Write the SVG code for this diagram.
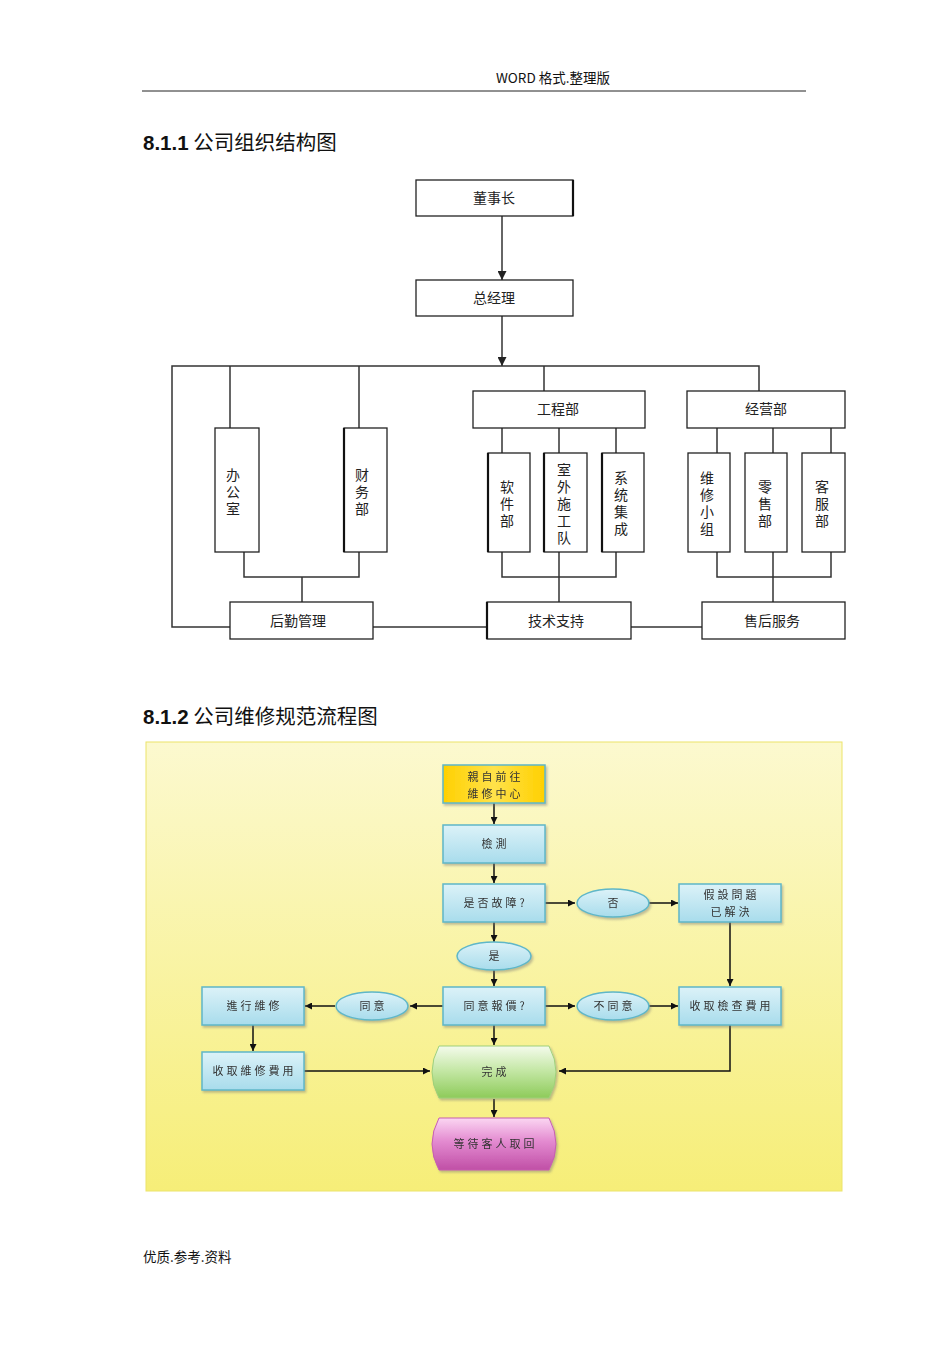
<svg xmlns="http://www.w3.org/2000/svg" width="950" height="1345" viewBox="0 0 950 1345">
<defs>
<style>
.t{font-family:"Noto Sans CJK SC","Liberation Sans",sans-serif;fill:#111;}
.ob{fill:#fff;stroke:#222;stroke-width:1.3;}
.ol{fill:none;stroke:#333;stroke-width:1.5;}
.ot{font-family:"Noto Sans CJK SC",sans-serif;font-size:14px;fill:#222;text-anchor:middle;}
.vt{font-family:"Noto Sans CJK SC",sans-serif;font-size:14px;fill:#222;text-anchor:middle;writing-mode:vertical-rl;letter-spacing:3px;}
.fb{fill:url(#gBlue);stroke:#5fb7c8;stroke-width:1.5;}
.fe{fill:url(#gBlue);stroke:#5fb7c8;stroke-width:1.5;}
.ft{font-family:"Noto Sans CJK TC","Noto Sans CJK SC",sans-serif;font-size:11px;letter-spacing:3px;fill:#333;text-anchor:middle;}
.fl{fill:none;stroke:#111;stroke-width:1.5;}
</style>
<marker id="ah" viewBox="0 0 10 10" refX="10" refY="5" markerWidth="7" markerHeight="7" orient="auto" markerUnits="userSpaceOnUse">
<path d="M0,0 L10,5 L0,10 Z" fill="#111"/>
</marker>
<marker id="ah2" viewBox="0 0 10 10" refX="10" refY="5" markerWidth="9" markerHeight="9" orient="auto" markerUnits="userSpaceOnUse">
<path d="M0,0 L10,5 L0,10 Z" fill="#222"/>
</marker>
<linearGradient id="gBg" x1="0" y1="0" x2="0" y2="1">
<stop offset="0" stop-color="#fcf9cf"/>
<stop offset="1" stop-color="#f6ee78"/>
</linearGradient>
<linearGradient id="gBlue" x1="0" y1="0" x2="0" y2="1">
<stop offset="0" stop-color="#dcf2f8"/>
<stop offset="1" stop-color="#a8dcec"/>
</linearGradient>
<linearGradient id="gGold" x1="0" y1="0" x2="1" y2="0">
<stop offset="0" stop-color="#ffd000"/>
<stop offset="0.5" stop-color="#ffe24a"/>
<stop offset="1" stop-color="#ffd000"/>
</linearGradient>
<linearGradient id="gGreen" x1="0" y1="0" x2="0" y2="1">
<stop offset="0" stop-color="#f4fbec"/>
<stop offset="0.45" stop-color="#c6e8a8"/>
<stop offset="1" stop-color="#8ecb5a"/>
</linearGradient>
<linearGradient id="gPink" x1="0" y1="0" x2="0" y2="1">
<stop offset="0" stop-color="#fbd6f2"/>
<stop offset="0.45" stop-color="#e38ad0"/>
<stop offset="1" stop-color="#c04fa6"/>
</linearGradient>
<filter id="sh" x="-10%" y="-10%" width="130%" height="140%">
<feDropShadow dx="1.5" dy="2" stdDeviation="1.2" flood-color="#777" flood-opacity="0.45"/>
</filter>
</defs>

<g id="header">
<text class="t" x="553" y="83" font-size="13.5" text-anchor="middle">WORD 格式.整理版</text>
<line x1="142" y1="91" x2="806" y2="91" stroke="#222" stroke-width="1"/>
</g>
<g id="title1">
<text class="t" x="143" y="150" font-size="20.5"><tspan font-weight="bold" font-family="Liberation Sans,sans-serif">8.1.1</tspan> 公司组织结构图</text>
</g>

<g id="org-connectors">
<line class="ol" x1="502" y1="216" x2="502" y2="280" marker-end="url(#ah2)"/>
<line class="ol" x1="502" y1="316" x2="502" y2="366" marker-end="url(#ah2)"/>
<polyline class="ol" points="230,627 172,627 172,366 759,366 759,391"/>
<line class="ol" x1="230" y1="366" x2="230" y2="428"/>
<line class="ol" x1="359" y1="366" x2="359" y2="428"/>
<line class="ol" x1="544" y1="366" x2="544" y2="391"/>
<polyline class="ol" points="244,552 244,577 359,577 359,552"/>
<line class="ol" x1="302" y1="577" x2="302" y2="602"/>
<line class="ol" x1="502" y1="428" x2="502" y2="453"/>
<line class="ol" x1="559" y1="428" x2="559" y2="453"/>
<line class="ol" x1="616" y1="428" x2="616" y2="453"/>
<polyline class="ol" points="502,552 502,577 616,577 616,552"/>
<line class="ol" x1="559" y1="552" x2="559" y2="602"/>
<line class="ol" x1="717" y1="428" x2="717" y2="453"/>
<line class="ol" x1="773" y1="428" x2="773" y2="453"/>
<line class="ol" x1="831" y1="428" x2="831" y2="453"/>
<polyline class="ol" points="717,552 717,577 831,577 831,552"/>
<line class="ol" x1="773" y1="552" x2="773" y2="602"/>
<line class="ol" x1="373" y1="627" x2="487" y2="627"/>
<line class="ol" x1="631" y1="627" x2="702" y2="627"/>
</g>

<g id="n-dongshizhang"><rect class="ob" x="416" y="180" width="157" height="36"/><line x1="573" y1="180" x2="573" y2="216" stroke="#111" stroke-width="2.2"/><text class="ot" x="494" y="203">董事长</text></g>
<g id="n-zongjingli"><rect class="ob" x="416" y="280" width="157" height="36"/><text class="ot" x="494" y="303">总经理</text></g>
<g id="n-bangongshi"><rect class="ob" x="215" y="428" width="44" height="124"/><text class="vt" x="233" y="493">办公室</text></g>
<g id="n-caiwubu"><rect class="ob" x="344" y="428" width="43" height="124"/><line x1="344" y1="428" x2="344" y2="552" stroke="#111" stroke-width="2.2"/><text class="vt" x="362" y="493">财务部</text></g>
<g id="n-gongchengbu"><rect class="ob" x="473" y="391" width="172" height="37"/><text class="ot" x="558" y="414">工程部</text></g>
<g id="n-jingyingbu"><rect class="ob" x="687" y="391" width="158" height="37"/><text class="ot" x="766" y="414">经营部</text></g>
<g id="n-ruanjianbu"><rect class="ob" x="488" y="453" width="42" height="99"/><line x1="488" y1="453" x2="488" y2="552" stroke="#111" stroke-width="2.2"/><text class="vt" x="507" y="505">软件部</text></g>
<g id="n-shiwai"><rect class="ob" x="544" y="453" width="43" height="99"/><line x1="544" y1="453" x2="544" y2="552" stroke="#111" stroke-width="2.2"/><text class="vt" x="564" y="505">室外施工队</text></g>
<g id="n-xitong"><rect class="ob" x="602" y="453" width="42" height="99"/><line x1="602" y1="453" x2="602" y2="552" stroke="#111" stroke-width="2.2"/><text class="vt" x="621" y="505">系统集成</text></g>
<g id="n-weixiu"><rect class="ob" x="688" y="453" width="42" height="99"/><text class="vt" x="707" y="505">维修小组</text></g>
<g id="n-lingshou"><rect class="ob" x="745" y="453" width="42" height="99"/><text class="vt" x="765" y="505">零售部</text></g>
<g id="n-kefu"><rect class="ob" x="802" y="453" width="43" height="99"/><text class="vt" x="822" y="505">客服部</text></g>
<g id="n-houqin"><rect class="ob" x="230" y="602" width="143" height="37"/><text class="ot" x="298" y="626">后勤管理</text></g>
<g id="n-jishu"><rect class="ob" x="487" y="602" width="144" height="37"/><line x1="487" y1="602" x2="487" y2="639" stroke="#111" stroke-width="2.2"/><text class="ot" x="556" y="626">技术支持</text></g>
<g id="n-shouhou"><rect class="ob" x="702" y="602" width="143" height="37"/><text class="ot" x="772" y="626">售后服务</text></g>

<g id="title2">
<text class="t" x="143" y="724" font-size="20.5"><tspan font-weight="bold" font-family="Liberation Sans,sans-serif">8.1.2</tspan> 公司维修规范流程图</text>
</g>

<g id="flow-bg">
<rect x="146" y="742" width="696" height="449" fill="url(#gBg)" stroke="#ece46a" stroke-width="1"/>
</g>

<g id="flow-connectors">
<line class="fl" x1="494" y1="803" x2="494" y2="824" marker-end="url(#ah)"/>
<line class="fl" x1="494" y1="863" x2="494" y2="883" marker-end="url(#ah)"/>
<line class="fl" x1="545" y1="903" x2="575" y2="903" marker-end="url(#ah)"/>
<line class="fl" x1="649" y1="903" x2="678" y2="903" marker-end="url(#ah)"/>
<line class="fl" x1="494" y1="922" x2="494" y2="942" marker-end="url(#ah)"/>
<line class="fl" x1="494" y1="970" x2="494" y2="986" marker-end="url(#ah)"/>
<line class="fl" x1="730" y1="922" x2="730" y2="986" marker-end="url(#ah)"/>
<line class="fl" x1="443" y1="1006" x2="410" y2="1006" marker-end="url(#ah)"/>
<line class="fl" x1="335" y1="1006" x2="305" y2="1006" marker-end="url(#ah)"/>
<line class="fl" x1="545" y1="1006" x2="575" y2="1006" marker-end="url(#ah)"/>
<line class="fl" x1="649" y1="1006" x2="678" y2="1006" marker-end="url(#ah)"/>
<line class="fl" x1="253" y1="1025" x2="253" y2="1051" marker-end="url(#ah)"/>
<line class="fl" x1="494" y1="1025" x2="494" y2="1045" marker-end="url(#ah)"/>
<line class="fl" x1="304" y1="1071" x2="430" y2="1071" marker-end="url(#ah)"/>
<polyline class="fl" points="730,1025 730,1071 559,1071" marker-end="url(#ah)"/>
<line class="fl" x1="494" y1="1099" x2="494" y2="1117" marker-end="url(#ah)"/>
</g>

<g id="f-start" filter="url(#sh)"><rect x="443" y="765" width="102" height="38" fill="url(#gGold)" stroke="#5fb7c8" stroke-width="1.5"/><text class="ft" x="495.5" y="781">親自前往</text><text class="ft" x="495.5" y="798">維修中心</text></g>
<g id="f-jiance" filter="url(#sh)"><rect class="fb" x="443" y="825" width="102" height="38"/><text class="ft" x="495.5" y="848">檢測</text></g>
<g id="f-guzhang" filter="url(#sh)"><rect class="fb" x="443" y="884" width="102" height="38"/><text class="ft" x="495.5" y="907">是否故障?</text></g>
<g id="f-fou" filter="url(#sh)"><ellipse class="fe" cx="613" cy="903" rx="36" ry="14"/><text class="ft" x="614.5" y="907">否</text></g>
<g id="f-jiashe" filter="url(#sh)"><rect class="fb" x="679" y="884" width="102" height="38"/><text class="ft" x="731.5" y="899">假設問題</text><text class="ft" x="731.5" y="916">已解決</text></g>
<g id="f-shi" filter="url(#sh)"><ellipse class="fe" cx="494" cy="956" rx="37" ry="14"/><text class="ft" x="495.5" y="960">是</text></g>
<g id="f-baojia" filter="url(#sh)"><rect class="fb" x="443" y="987" width="102" height="38"/><text class="ft" x="495.5" y="1010">同意報價?</text></g>
<g id="f-tongyi" filter="url(#sh)"><ellipse class="fe" cx="372" cy="1006" rx="36" ry="14"/><text class="ft" x="373.5" y="1010">同意</text></g>
<g id="f-jinxing" filter="url(#sh)"><rect class="fb" x="202" y="987" width="102" height="38"/><text class="ft" x="254.5" y="1010">進行維修</text></g>
<g id="f-butongyi" filter="url(#sh)"><ellipse class="fe" cx="613" cy="1006" rx="36" ry="14"/><text class="ft" x="614.5" y="1010">不同意</text></g>
<g id="f-jiancha" filter="url(#sh)"><rect class="fb" x="679" y="987" width="102" height="38"/><text class="ft" x="731.5" y="1010">收取檢查費用</text></g>
<g id="f-weixiufei" filter="url(#sh)"><rect class="fb" x="202" y="1052" width="102" height="38"/><text class="ft" x="254.5" y="1075">收取維修費用</text></g>
<g id="f-wancheng" filter="url(#sh)"><path d="M439,1046 L549,1046 Q563,1072 549,1098 L439,1098 Q425,1072 439,1046 Z" fill="url(#gGreen)" stroke="#9fd07a" stroke-width="1"/><text class="ft" x="495.5" y="1076" font-size="12">完成</text></g>
<g id="f-dengdai" filter="url(#sh)"><path d="M439,1118 L549,1118 Q563,1144 549,1170 L439,1170 Q425,1144 439,1118 Z" fill="url(#gPink)" stroke="#c75fb0" stroke-width="1"/><text class="ft" x="495.5" y="1148">等待客人取回</text></g>

<g id="footer">
<text class="t" x="143" y="1262" font-size="13.5">优质.参考.资料</text>
</g>
</svg>
